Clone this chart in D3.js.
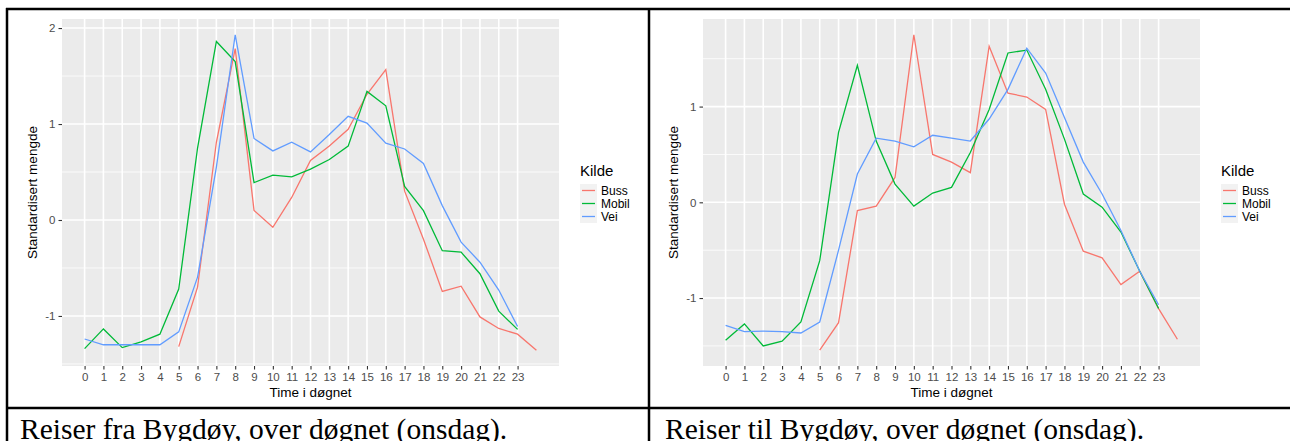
<!DOCTYPE html>
<html>
<head>
<meta charset="utf-8">
<script src="https://cdn.jsdelivr.net/npm/d3@7"></script>
<style>
  body { margin: 0; background: #fff; }
  svg { display: block; }
</style>
</head>
<body>
<div id="chart"></div>
<script>
// hours on the x axis
const hourTicks = [0, 1, 2, 3, 4, 5, 6, 7, 8, 9, 10, 11, 12, 13, 14, 15, 16, 17, 18, 19, 20, 21, 22, 23];
const hoursBuss = [5, 6, 7, 8, 9, 10, 11, 12, 13, 14, 15, 16, 17, 18, 19, 20, 21, 22, 23, 24];
const hoursAll = [0, 1, 2, 3, 4, 5, 6, 7, 8, 9, 10, 11, 12, 13, 14, 15, 16, 17, 18, 19, 20, 21, 22, 23];

const sources = ["Buss", "Mobil", "Vei"];
const colors = ["#F8766D", "#00BA38", "#619CFF"];

// Reiser fra Bygdøy
const fraBuss = [-1.32, -0.70, 0.81, 1.785, 0.10, -0.076, 0.235, 0.62, 0.77, 0.945, 1.31, 1.567, 0.30, -0.20, -0.744, -0.69, -1.01, -1.13, -1.19, -1.357];
const fraMobil = [-1.34, -1.135, -1.33, -1.27, -1.19, -0.72, 0.75, 1.86, 1.65, 0.39, 0.467, 0.45, 0.53, 0.63, 0.77, 1.34, 1.19, 0.35, 0.097, -0.32, -0.335, -0.56, -0.95, -1.14];
const fraVei = [-1.24, -1.30, -1.30, -1.30, -1.30, -1.166, -0.595, 0.55, 1.93, 0.85, 0.72, 0.81, 0.71, 0.89, 1.08, 1.01, 0.80, 0.74, 0.59, 0.15, -0.23, -0.44, -0.73, -1.11];

// Reiser til Bygdøy
const tilBuss = [-1.545, -1.257, -0.087, -0.04, 0.26, 1.75, 0.50, 0.42, 0.31, 1.63, 1.14, 1.10, 0.97, -0.02, -0.51, -0.58, -0.86, -0.72, -1.11, -1.43];
const tilMobil = [-1.44, -1.27, -1.50, -1.45, -1.25, -0.61, 0.73, 1.43, 0.64, 0.19, -0.04, 0.097, 0.156, 0.52, 0.97, 1.56, 1.59, 1.18, 0.66, 0.087, -0.05, -0.31, -0.72, -1.11];
const tilVei = [-1.285, -1.35, -1.345, -1.35, -1.365, -1.25, -0.5, 0.295, 0.67, 0.64, 0.58, 0.70, 0.67, 0.64, 0.87, 1.18, 1.61, 1.35, 0.885, 0.42, 0.087, -0.295, -0.72, -1.07];

const captions = ["Reiser fra Bygdøy, over døgnet (onsdag).", "Reiser til Bygdøy, over døgnet (onsdag)."];

const width = 1290, height = 441;
const svg = d3.select("#chart").append("svg")
    .attr("width", width)
    .attr("height", height);

svg.append("rect").attr("width", width).attr("height", height).attr("fill", "#fff");

function drawPanel(x0, series, yMajor, yMinor) {
    const left = x0 + 62, right = x0 + 559, top = 19, bottom = 366;
    const xScale = d3.scaleLinear().domain([-1.2, 25.2]).range([left, right]);

    const allVals = series.flatMap(s => s.values);
    const ext = d3.extent(allVals);
    const pad = (ext[1] - ext[0]) * 0.05;
    const yScale = d3.scaleLinear().domain([ext[0] - pad, ext[1] + pad]).range([bottom, top]);

    const g = svg.append("g");
    g.append("rect")
        .attr("x", left).attr("y", top)
        .attr("width", right - left).attr("height", bottom - top)
        .attr("fill", "#EBEBEB");

    g.selectAll(".ymin").data(yMinor).enter().append("line")
        .attr("x1", left).attr("x2", right)
        .attr("y1", d => yScale(d)).attr("y2", d => yScale(d))
        .attr("stroke", "#fff").attr("stroke-width", 0.8);

    g.selectAll(".ymaj").data(yMajor).enter().append("line")
        .attr("x1", left).attr("x2", right)
        .attr("y1", d => yScale(d)).attr("y2", d => yScale(d))
        .attr("stroke", "#fff").attr("stroke-width", 1.6);

    g.selectAll(".xmaj").data(hourTicks).enter().append("line")
        .attr("x1", d => xScale(d)).attr("x2", d => xScale(d))
        .attr("y1", top).attr("y2", bottom)
        .attr("stroke", "#fff").attr("stroke-width", 1.6);

    const line = d3.line()
        .x(d => xScale(d[0]))
        .y(d => yScale(d[1]));

    series.forEach((s, i) => {
        g.append("path")
            .datum(s.hours.map((h, j) => [h, s.values[j]]))
            .attr("fill", "none")
            .attr("stroke", colors[i])
            .attr("stroke-width", 1.3)
            .attr("d", line);
    });

    const xAxis = d3.axisBottom(xScale)
        .tickValues(hourTicks)
        .tickSize(3.5)
        .tickPadding(3)
        .tickFormat(d => d);
    const xg = g.append("g")
        .attr("transform", `translate(0,${bottom})`)
        .call(xAxis);
    xg.select(".domain").remove();
    xg.selectAll("line").attr("stroke", "#333").attr("stroke-width", 1.1);
    xg.selectAll("text")
        .style("fill", "#4D4D4D")
        .style("font-family", "Liberation Sans, Arial, sans-serif")
        .style("font-size", "11.5px");

    const yAxis = d3.axisLeft(yScale)
        .tickValues(yMajor)
        .tickSize(3.5)
        .tickPadding(3)
        .tickFormat(d => d);
    const yg = g.append("g")
        .attr("transform", `translate(${left},0)`)
        .call(yAxis);
    yg.select(".domain").remove();
    yg.selectAll("line").attr("stroke", "#333").attr("stroke-width", 1.1);
    yg.selectAll("text")
        .style("fill", "#4D4D4D")
        .style("font-family", "Liberation Sans, Arial, sans-serif")
        .style("font-size", "11.5px");

    g.append("text")
        .attr("x", (left + right) / 2)
        .attr("y", 397)
        .attr("text-anchor", "middle")
        .style("font-family", "Liberation Sans, Arial, sans-serif")
        .style("font-size", "13.5px")
        .text("Time i døgnet");

    g.append("text")
        .attr("transform", `translate(${x0 + 37},${(top + bottom) / 2}) rotate(-90)`)
        .attr("text-anchor", "middle")
        .style("font-family", "Liberation Sans, Arial, sans-serif")
        .style("font-size", "13.5px")
        .text("Standardisert mengde");

    // legend
    const lx = right + 21;
    const lg = g.append("g").attr("transform", `translate(${lx},0)`);
    lg.append("text")
        .attr("x", 0).attr("y", 176)
        .style("font-family", "Liberation Sans, Arial, sans-serif")
        .style("font-size", "15px")
        .text("Kilde");
    sources.forEach((name, i) => {
        const ky = 184 + i * 13;
        lg.append("rect")
            .attr("x", 0).attr("y", ky)
            .attr("width", 17).attr("height", 13)
            .attr("fill", "#F2F2F2");
        lg.append("line")
            .attr("x1", 2).attr("x2", 15)
            .attr("y1", ky + 6.5).attr("y2", ky + 6.5)
            .attr("stroke", colors[i]).attr("stroke-width", 1.3);
        lg.append("text")
            .attr("x", 21).attr("y", ky + 6.5)
            .attr("dy", "0.35em")
            .style("font-family", "Liberation Sans, Arial, sans-serif")
            .style("font-size", "12px")
            .text(name);
    });
}

drawPanel(0, [
    { hours: hoursBuss, values: fraBuss },
    { hours: hoursAll, values: fraMobil },
    { hours: hoursAll, values: fraVei }
], [-1, 0, 1, 2], [-1.5, -0.5, 0.5, 1.5]);

drawPanel(641, [
    { hours: hoursBuss, values: tilBuss },
    { hours: hoursAll, values: tilMobil },
    { hours: hoursAll, values: tilVei }
], [-1, 0, 1], [-1.5, -0.5, 0.5, 1.5]);

// table borders
const border = svg.append("g").attr("stroke", "#000").attr("stroke-width", 2.5);
border.append("line").attr("x1", 6).attr("x2", width).attr("y1", 9).attr("y2", 9);
border.append("line").attr("x1", 6).attr("x2", width).attr("y1", 408).attr("y2", 408);
border.append("line").attr("x1", 7).attr("x2", 7).attr("y1", 8).attr("y2", height);
border.append("line").attr("x1", 649).attr("x2", 649).attr("y1", 8).attr("y2", height);

captions.forEach((c, i) => {
    svg.append("text")
        .attr("x", i === 0 ? 20 : 665)
        .attr("y", 439)
        .style("font-family", "Liberation Serif, Times New Roman, serif")
        .style("font-size", "29.5px")
        .text(c);
});
</script>
</body>
</html>
